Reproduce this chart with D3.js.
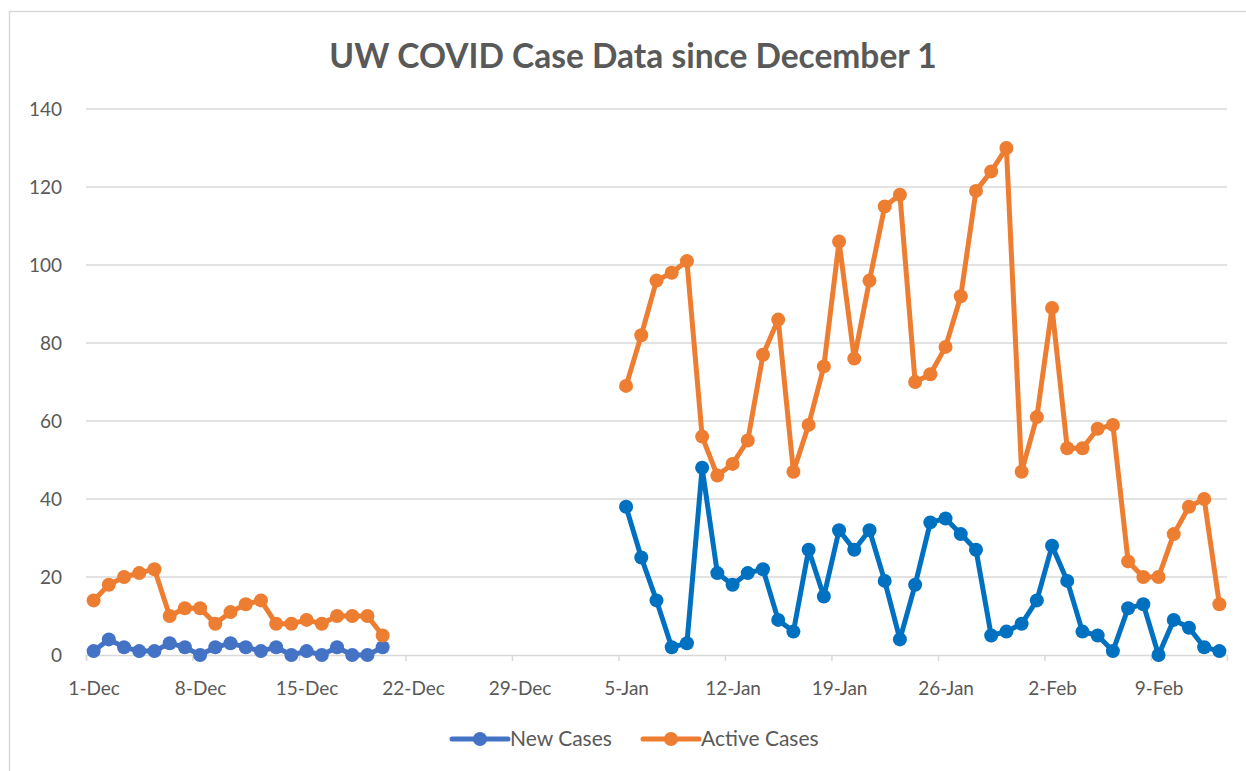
<!DOCTYPE html>
<html lang="en">
    <head>
        <meta charset="utf-8">
        <title>UW COVID Case Data</title>
        <script src="https://d3js.org/d3.v7.min.js"></script>
        <style>
            body { margin: 0; background: #fff; }
            text { font-family: Lato, "Open Sans", sans-serif; fill: #595959; }
        </style>
    </head>
    <body>
        <script type="text/javascript">
            // Data
            var decDates = ["2020-12-01", "2020-12-20"];   // first and last day of the December block
            var janDates = ["2021-01-05", "2021-02-13"];   // first and last day of the January block

            var decNew = [1, 4, 2, 1, 1, 3, 2, 0, 2, 3, 2, 1, 2, 0, 1, 0, 2, 0, 0, 2];
            var decActive = [14, 18, 20, 21, 22, 10, 12, 12, 8, 11, 13, 14, 8, 8, 9, 8, 10, 10, 10, 5];

            var janNew = [38, 25, 14, 2, 3, 48, 21, 18, 21, 22, 9, 6, 27, 15, 32, 27, 32, 19, 4, 18,
                          34, 35, 31, 27, 5, 6, 8, 14, 28, 19, 6, 5, 1, 12, 13, 0, 9, 7, 2, 1];
            var janActive = [69, 82, 96, 98, 101, 56, 46, 49, 55, 77, 86, 47, 59, 74, 106, 76, 96, 115, 118, 70,
                             72, 79, 92, 119, 124, 130, 47, 61, 89, 53, 53, 58, 59, 24, 20, 20, 31, 38, 40, 13];

            var yTicks = [0, 20, 40, 60, 80, 100, 120, 140];
            var legendNames = ["New Cases", "Active Cases"];
            var legendColors = ["#4472C4", "#ED7D31"];

            var width = 1246, height = 771;
            var plotLeft = 86, plotRight = 1227, plotTop = 109, plotBottom = 655;

            var parse = d3.timeParse("%Y-%m-%d");
            var start = parse("2020-12-01"), end = parse("2021-02-14");

            var svg = d3.select("body")
                .append("svg")
                .attr("width", width)
                .attr("height", height);

            // chart frame
            svg.append("rect")
                .attr("x", 9.5).attr("y", 11.5)
                .attr("width", width).attr("height", height)
                .attr("fill", "none")
                .attr("stroke", "#d9d9d9")
                .attr("stroke-width", 1.5);

            var x = d3.scaleTime().domain([start, end]).range([plotLeft, plotRight]);
            var y = d3.scaleLinear().domain([0, 140]).range([plotBottom, plotTop]);

            function mid(d) { return d3.timeHour.offset(d, 12); }

            // gridlines + y labels
            svg.selectAll(".grid")
                .data(yTicks.slice(1))
                .enter()
                .append("line")
                .attr("x1", plotLeft).attr("x2", plotRight)
                .attr("y1", function (d) { return y(d); })
                .attr("y2", function (d) { return y(d); })
                .attr("stroke", "#d9d9d9")
                .attr("stroke-width", 1.5);

            svg.selectAll(".ylab")
                .data(yTicks)
                .enter()
                .append("text")
                .attr("x", 62)
                .attr("y", function (d) { return y(d); })
                .attr("dy", "0.35em")
                .attr("text-anchor", "end")
                .attr("font-size", 19)
                .text(function (d) { return d; });

            // x axis: tick marks at week boundaries, labels centred on the day
            var days = d3.timeDay.range(start, end);
            var weekStarts = days.filter(function (d, i) { return i % 7 === 0; });

            var axisG = svg.append("g")
                .attr("transform", "translate(0," + plotBottom + ")")
                .call(d3.axisBottom(x).tickValues(weekStarts).tickSize(6).tickFormat(""));
            axisG.selectAll("path, line").attr("stroke", "#d9d9d9").attr("stroke-width", 1.5);

            var labG = svg.append("g")
                .attr("transform", "translate(0," + plotBottom + ")")
                .call(d3.axisBottom(x).tickValues(weekStarts.map(mid)).tickSize(0).tickPadding(27)
                    .tickFormat(d3.timeFormat("%-d-%b")));
            labG.select(".domain").remove();
            labG.selectAll("text")
                .attr("font-family", "Lato, 'Open Sans', sans-serif")
                .attr("font-size", 19)
                .attr("fill", "#595959");

            // series
            function series(range, values) {
                var ds = d3.timeDay.range(parse(range[0]), d3.timeDay.offset(parse(range[1]), 1));
                return values.map(function (v, i) { return { date: mid(ds[i]), value: v }; });
            }

            var line = d3.line()
                .x(function (d) { return x(d.date); })
                .y(function (d) { return y(d.value); });

            function draw(data, color) {
                svg.append("path")
                    .datum(data)
                    .attr("d", line)
                    .attr("fill", "none")
                    .attr("stroke", color)
                    .attr("stroke-width", 5)
                    .attr("stroke-linejoin", "round")
                    .attr("stroke-linecap", "round");
                svg.append("g").selectAll("circle")
                    .data(data)
                    .enter()
                    .append("circle")
                    .attr("cx", function (d) { return x(d.date); })
                    .attr("cy", function (d) { return y(d.value); })
                    .attr("r", 7)
                    .attr("fill", color);
            }

            draw(series(decDates, decNew), "#4472C4");
            draw(series(decDates, decActive), "#ED7D31");
            draw(series(janDates, janNew), "#0070C0");
            draw(series(janDates, janActive), "#ED7D31");

            // title
            svg.append("text")
                .attr("x", 633)
                .attr("y", 68)
                .attr("text-anchor", "middle")
                .attr("font-size", 33.5)
                .attr("font-weight", "bold")
                .text("UW COVID Case Data since December 1");

            // legend
            var legendX = [452, 643];
            legendNames.forEach(function (name, i) {
                var g = svg.append("g").attr("transform", "translate(" + legendX[i] + ",739)");
                g.append("line")
                    .attr("x1", 0).attr("x2", 56)
                    .attr("stroke", legendColors[i])
                    .attr("stroke-width", 5)
                    .attr("stroke-linecap", "round");
                g.append("circle").attr("cx", 28).attr("r", 7).attr("fill", legendColors[i]);
                g.append("text")
                    .attr("x", 58)
                    .attr("dy", "0.35em")
                    .attr("font-size", 21)
                    .text(name);
            });
        </script>
    </body>
</html>
